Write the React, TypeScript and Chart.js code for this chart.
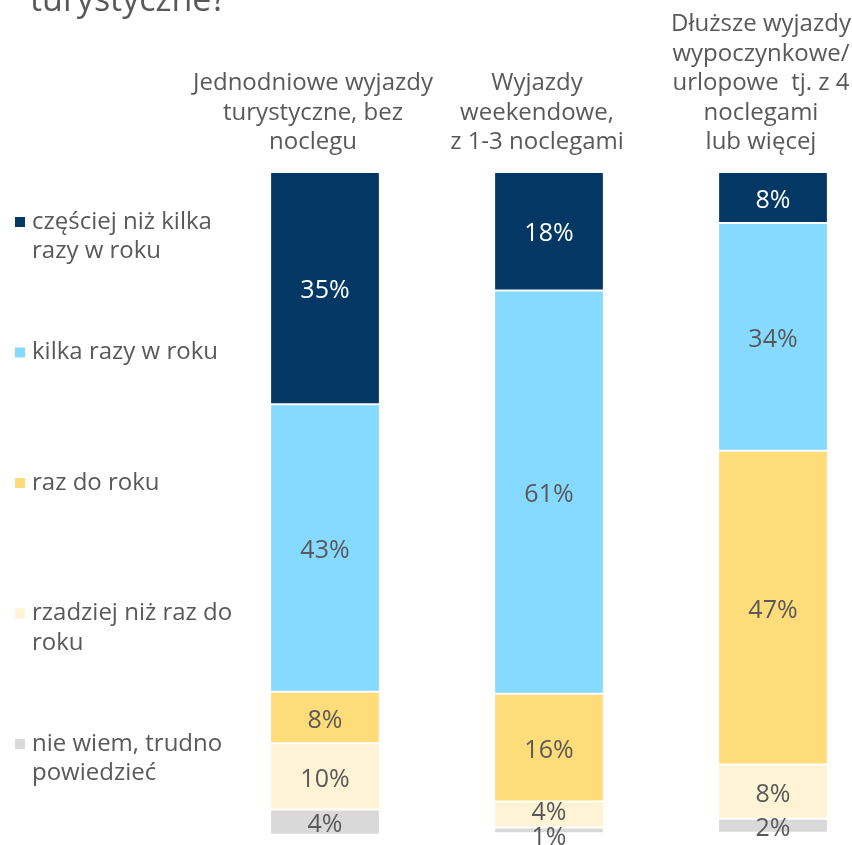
import { useEffect, useRef } from "react";
import { Chart, registerables } from "chart.js";

Chart.register(...registerables);

const TITLE_TAIL = "turystyczne?";

const CATEGORIES: string[][] = [
  ["Jednodniowe wyjazdy", "turystyczne, bez", "noclegu"],
  ["Wyjazdy", "weekendowe,", "z 1-3 noclegami"],
  ["Dłuższe wyjazdy", "wypoczynkowe/", "urlopowe  tj. z 4", "noclegami", "lub więcej"],
];

const SERIES_NAMES: string[][] = [
  ["częściej niż kilka", "razy w roku"],
  ["kilka razy w roku"],
  ["raz do roku"],
  ["rzadziej niż raz do", "roku"],
  ["nie wiem, trudno", "powiedzieć"],
];

const MORE_OFTEN = [35.1, 17.9, 7.7];
const FEW_TIMES = [43.4, 60.9, 34.4];
const ONCE_A_YEAR = [7.8, 16.3, 47.4];
const LESS_OFTEN = [10.0, 3.9, 8.2];
const DONT_KNOW = [3.8, 0.9, 2.1];

const SERIES_VALUES = [MORE_OFTEN, FEW_TIMES, ONCE_A_YEAR, LESS_OFTEN, DONT_KNOW];
const COLORS = ["#023863", "#87DAFF", "#FFDC7A", "#FFF3D5", "#D9D9D9"];
const LABEL_COLORS = ["#FFFFFF", "#595959", "#595959", "#595959", "#595959"];

const FONT = "'Open Sans', 'DejaVu Sans', sans-serif";
const TEXT = "#595959";

const valueLabels = {
  id: "valueLabels",
  afterDatasetsDraw(chart: any) {
    const ctx = chart.ctx;
    ctx.save();
    ctx.font = `25px ${FONT}`;
    ctx.textAlign = "center";
    ctx.textBaseline = "middle";
    const nBars = chart.data.labels.length;
    for (let j = 0; j < nBars; j++) {
      const items: { x: number; y: number; text: string; color: string }[] = [];
      chart.data.datasets.forEach((ds: any, i: number) => {
        const el = chart.getDatasetMeta(i).data[j];
        if (!el) return;
        items.push({
          x: el.x,
          y: (el.y + el.base) / 2 + 3,
          text: Math.round(ds.data[j]) + "%",
          color: LABEL_COLORS[i],
        });
      });
      const minGap = 25;
      for (let k = items.length - 1; k > 0; k--) {
        const lower = items[k];
        const upper = items[k - 1];
        if (lower.y - upper.y < minGap) {
          const mid = (lower.y + upper.y) / 2;
          lower.y = mid + minGap / 2;
          upper.y = mid - minGap / 2;
        }
      }
      items.forEach((it) => {
        ctx.fillStyle = it.color;
        ctx.fillText(it.text, it.x, it.y);
      });
    }
    ctx.restore();
  },
};

const sideLegend = {
  id: "sideLegend",
  afterDraw(chart: any) {
    const ctx = chart.ctx;
    ctx.save();
    ctx.font = `24px ${FONT}`;
    ctx.textBaseline = "middle";
    ctx.textAlign = "left";
    const startY = 222;
    const step = 130.5;
    const lineH = 29.5;
    SERIES_NAMES.forEach((lines, i) => {
      const y0 = startY + i * step;
      ctx.fillStyle = COLORS[i];
      ctx.fillRect(15, y0 - 5, 10, 10);
      ctx.fillStyle = TEXT;
      lines.forEach((ln, k) => ctx.fillText(ln, 32, y0 + k * lineH));
    });
    ctx.fillStyle = TEXT;
    ctx.font = `34px ${FONT}`;
    ctx.textBaseline = "alphabetic";
    ctx.fillText(TITLE_TAIL, 30, 11);
    ctx.restore();
  },
};

export default function App() {
  const ref = useRef<HTMLCanvasElement | null>(null);
  useEffect(() => {
    if (!ref.current) return;
    const chart = new Chart(ref.current, {
      type: "bar",
      data: {
        labels: CATEGORIES as any,
        datasets: SERIES_VALUES.map((vals, i) => ({
          label: SERIES_NAMES[i].join(" "),
          data: vals,
          backgroundColor: COLORS[i],
          borderColor: "#FFFFFF",
          borderWidth: 1,
          borderSkipped: false,
          categoryPercentage: 1,
          barPercentage: 0.49,
          clip: false as any,
        })),
      },
      options: {
        animation: false,
        responsive: false,
        layout: { padding: { left: 325, right: 79, top: 0, bottom: 11 } },
        plugins: {
          legend: { display: false },
          tooltip: { enabled: false },
          title: { display: false },
        },
        scales: {
          x: {
            stacked: true,
            position: "top",
            offset: false,
            grid: { display: false, drawTicks: false },
            border: { display: false },
            ticks: {
              color: TEXT,
              font: { family: FONT, size: 24, lineHeight: 1.23 },
              padding: 15,
              labelOffset: -12,
              maxRotation: 0,
              autoSkip: false,
            },
            afterFit: (s: any) => {
              s.height = 172;
              s.paddingLeft = 0;
              s.paddingRight = 0;
            },
          },
          y: {
            stacked: true,
            display: false,
            reverse: true,
            min: 0,
            max: 100,
          },
        },
      },
      plugins: [valueLabels, sideLegend],
    });
    return () => chart.destroy();
  }, []);
  return (
    <div style={{ position: "absolute", left: 0, top: 0, width: 852, height: 845, background: "#fff" }}>
      <canvas ref={ref} width={852} height={845} style={{ display: "block" }} />
    </div>
  );
}
